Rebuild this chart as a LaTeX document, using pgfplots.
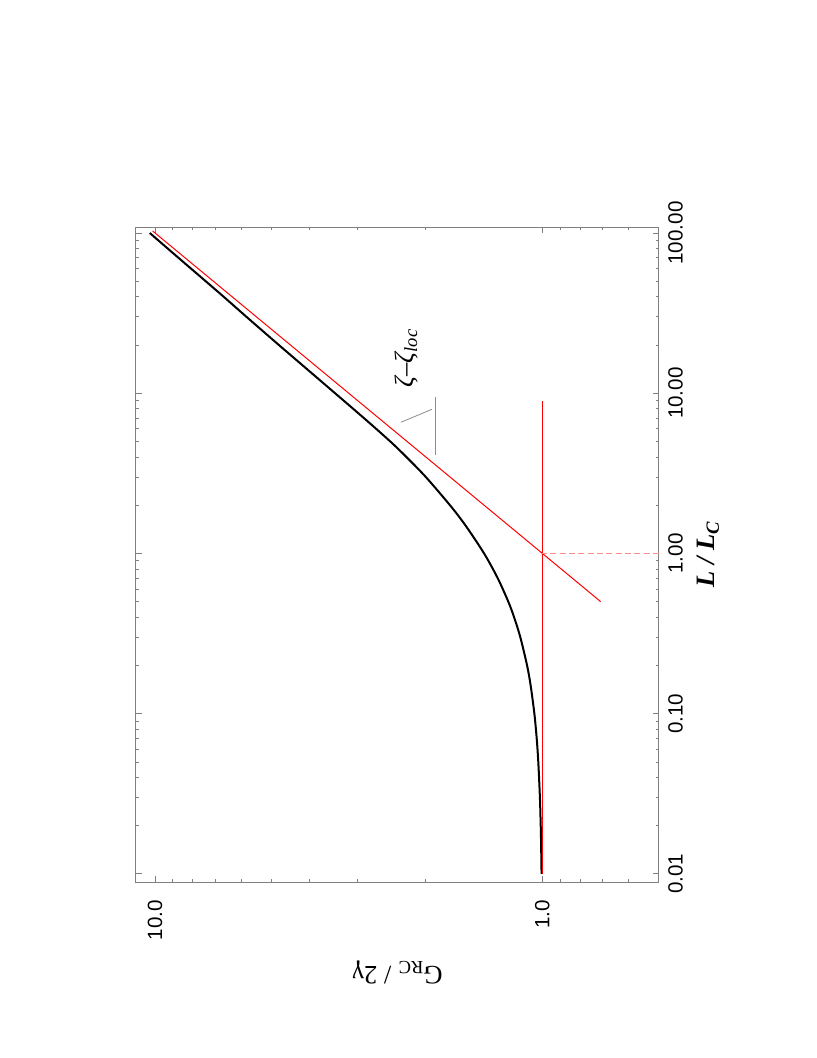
\documentclass[border=0pt]{standalone}
\usepackage{pgfplots}
\pgfplotsset{compat=1.18}
\usepackage{graphicx}
\usepackage{fontspec}
\setmainfont{Liberation Serif}
\newfontfamily\arial{Liberation Sans}
\definecolor{framegray}{gray}{0.5}
\definecolor{dashpink}{RGB}{255,140,140}
\definecolor{slopegray}{gray}{0.55}

\begin{document}
\rotatebox{90}{%
\begin{tikzpicture}
\path[use as bounding box] (0,0) rectangle (793.5bp,612.75bp);
\begin{axis}[
    at={(132bp,118.5bp)}, anchor=south west,
    scale only axis, width=491.25bp, height=392.25bp,
    xmode=log, ymode=log,
    xmin=0.0089, xmax=109, ymin=0.5, ymax=11.2,
    xtick={0.01,0.1,1,10,100},
    xticklabels={0.01,0.10,1.00,10.00,100.00},
    ytick={1,10},
    yticklabels={1.0,10.0},
    minor xtick={0.02,0.03,0.04,0.05,0.06,0.07,0.08,0.09,
                 0.2,0.3,0.4,0.5,0.6,0.7,0.8,0.9,
                 2,3,4,5,6,7,8,9,20,30,40,50,60,70,80,90},
    minor ytick={0.6,0.7,0.8,0.9,2,3,4,5,6,7,8,9},
    tick align=inside,
    major tick length=4.5bp, minor tick length=2.5bp,
    axis line style={framegray, line width=0.75bp},
    every tick/.style={framegray, line width=0.6bp},
    tick label style={font=\arial\fontsize{15.5}{17}\selectfont, inner sep=0pt},
    xticklabel style={yshift=-6.75bp},
    yticklabel style={xshift=-13.5bp},
    xlabel={\bfseries\itshape L / L\textsubscript{C}},
    ylabel={G\textsubscript{RC} / 2γ},
    label style={font=\fontsize{20}{24}\selectfont, inner sep=0pt},
    xlabel style={at={(axis description cs:0.5,0)}, anchor=north, yshift=-28.5bp},
    ylabel style={at={(axis description cs:0,0.5)}, anchor=center, yshift=67.5bp},
]
% conductance curve
\addplot[black, line width=1.5bp, smooth] coordinates {
  (0.01,1.005) (0.015,1.0075) (0.02,1.010) (0.03,1.0149) (0.05,1.0247)
  (0.07,1.0344) (0.1,1.0488) (0.15,1.0724) (0.2,1.0954) (0.3,1.1402)
  (0.4,1.1832) (0.5,1.2247) (0.7,1.3038) (1,1.4142) (1.5,1.5811)
  (2,1.7321) (3,2.000) (4,2.245) (5,2.470) (7,2.890) (10,3.430)
  (15,4.170) (20,4.790) (30,5.810) (40,6.650) (50,7.400) (70,8.700)
  (100,10.32)
};
% asymptotes
\addplot[red, line width=0.75bp] coordinates {(0.01,1) (8.9,1)};
\addplot[red, line width=0.75bp] coordinates {(0.5,0.7071) (103,10.149)};
\addplot[dashpink, line width=0.75bp, dash pattern=on 4.5bp off 2.5bp] coordinates {(1,0.5) (1,1)};
% slope marker
\addplot[slopegray, line width=0.6bp] coordinates {(4.10,1.884) (9.44,1.884)};
\addplot[slopegray, line width=0.6bp] coordinates {(6.59,2.317) (7.94,1.929)};
\node[font=\fontsize{20}{24}\selectfont\itshape] at (axis cs:16.6,2.25) {ζ–ζ\textsubscript{loc}};
\end{axis}
\end{tikzpicture}}
\end{document}
